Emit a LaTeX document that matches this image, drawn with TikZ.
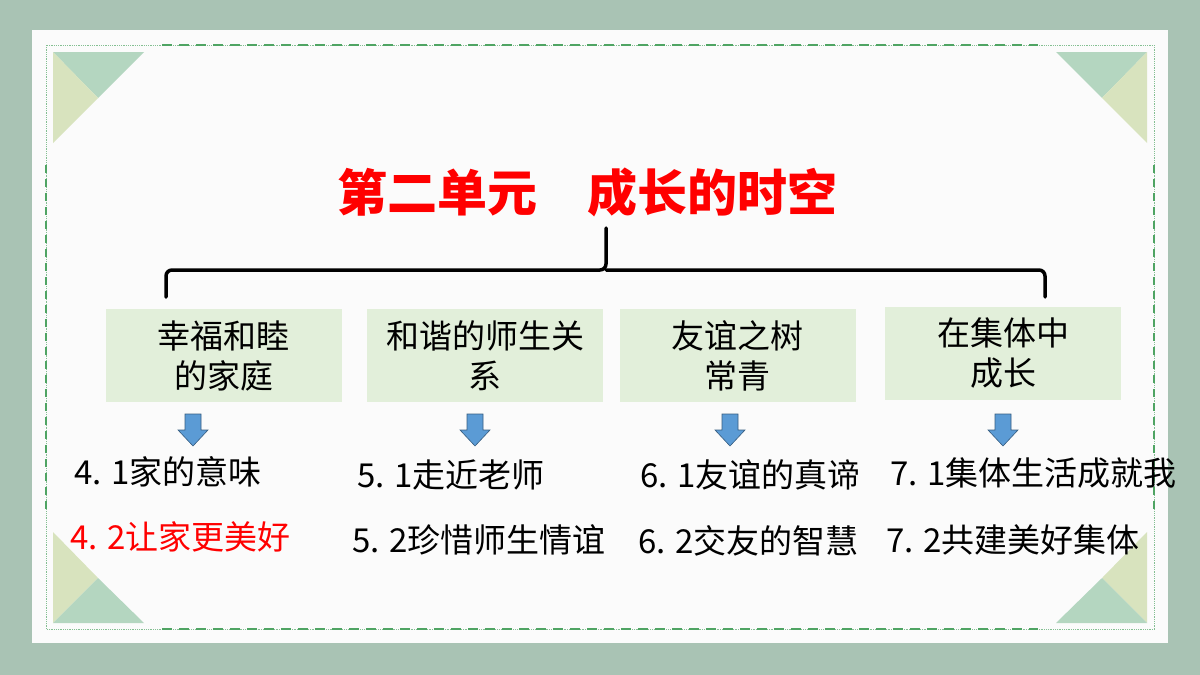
\documentclass[tikz,border=0pt]{standalone}
\usepackage{fontspec}
\setmainfont{Noto Sans CJK SC}
\definecolor{bgg}{HTML}{A9C3B4}
\definecolor{tri1}{HTML}{B4D6C0}
\definecolor{tri2}{HTML}{D8E3BE}
\definecolor{frm}{HTML}{4FA463}
\definecolor{boxf}{HTML}{E2EFDA}
\definecolor{arr}{HTML}{5B9BD5}
\tikzset{
  topic/.style={fill=boxf,minimum width=236pt,minimum height=93pt,align=center,font=\fontsize{33}{40}\selectfont,inner sep=0pt},
  item/.style={anchor=west,font=\fontsize{33}{36}\selectfont,inner sep=0pt},
  darr/.style={fill=arr,draw=arr!60!black,line width=0.6pt}
}
\newcommand\downarr[1]{\path[darr] ($(#1)+(-8,-16)$)--++(16,0)--++(0,16)--++(7,0)--++(-15,16)--++(-15,-16)--++(7,0)--cycle;}
\usetikzlibrary{calc}
\begin{document}
\begin{tikzpicture}[x=1pt,y=-1pt]
\fill[bgg] (0,0) rectangle (1200,675);
\useasboundingbox (0,0) rectangle (1200,675);
\fill[white!97!gray] (32,30) rectangle (1168,643);
% triangles
\fill[tri1] (53,52)--(144,52)--(98,98)--cycle;
\fill[tri2] (53,52)--(98,98)--(53,143)--cycle;
\fill[tri2] (53,532)--(98,578)--(53,623)--cycle;
\fill[tri1] (53,623)--(144,623)--(98,578)--cycle;
\fill[tri1] (1147,52)--(1056,52)--(1102,98)--cycle;
\fill[tri2] (1147,52)--(1102,98)--(1147,143)--cycle;
\fill[tri2] (1147,532)--(1102,578)--(1147,623)--cycle;
\fill[tri1] (1147,623)--(1056,623)--(1102,578)--cycle;
% frame
\draw[frm!70,densely dotted,line width=0.8pt] (46,45) rectangle (1154,629);
\draw[frm,dash pattern=on 10pt off 7pt,line width=2pt] (162,45)--(1038,45) (162,629)--(1038,629);
\draw[frm,dash pattern=on 8pt off 6pt,line width=1.5pt] (46,165)--(46,510) (1154,165)--(1154,510);
% title
\node[font=\fontsize{50}{54}\selectfont\bfseries,text=red] (title) at (587,192) {第二单元\quad 成长的时空};
% brace
\coordinate (bl) at (166,297); \coordinate (br) at (1045,297); \coordinate (bt) at (606,228);
\draw[line width=3.5pt,line cap=round,rounded corners=6pt] (bl)--(166,270)--(606,270)--(bt);
\draw[line width=3.5pt,line cap=round,rounded corners=6pt] (606,270)--(1045,270)--(br);
% topics
\node[topic] (t1) at (223.5,355.5) {幸福和睦\\的家庭};
\node[topic] (t2) at (485,355.5) {和谐的师生关\\系};
\node[topic] (t3) at (737.5,355.5) {友谊之树\\常青};
\node[topic] (t4) at (1003,353) {在集体中\\成长};
% arrows
\coordinate (a1) at (193,430); \coordinate (a2) at (475,430);
\coordinate (a3) at (730,430); \coordinate (a4) at (1003,430);
\downarr{a1}\downarr{a2}\downarr{a3}\downarr{a4}
% items
\node[item] (i41) at (74,472) {4. 1家的意味};
\node[item,text=red] (i42) at (70,537) {4. 2让家更美好};
\node[item] (i51) at (357,475) {5. 1走近老师};
\node[item] (i52) at (352,540) {5. 2珍惜师生情谊};
\node[item] (i61) at (640,475) {6. 1友谊的真谛};
\node[item] (i62) at (638,541) {6. 2交友的智慧};
\node[item] (i71) at (890,473) {7. 1集体生活成就我};
\node[item] (i72) at (886,540) {7. 2共建美好集体};
\end{tikzpicture}
\end{document}
